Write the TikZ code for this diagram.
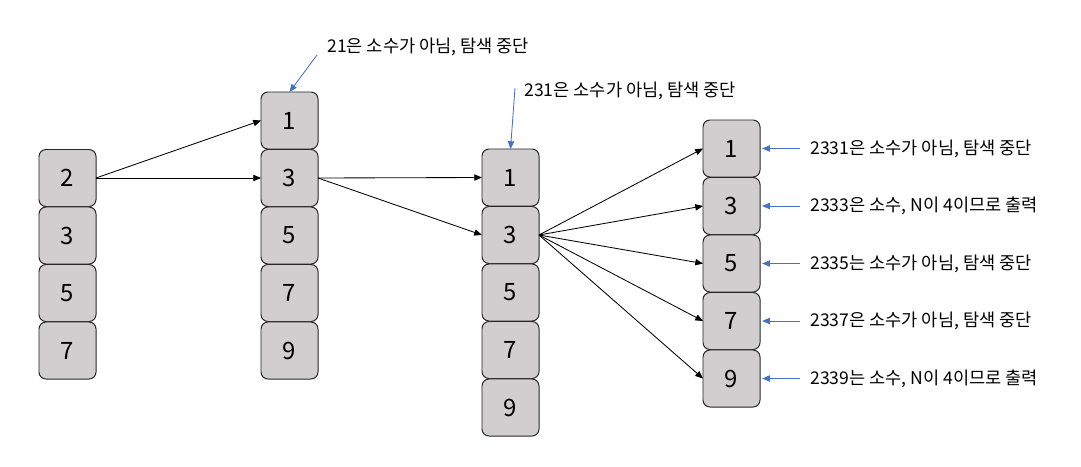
\documentclass[tikz,border=0pt]{standalone}
\usepackage{fontspec}
\setmainfont{Noto Sans CJK KR}
\usetikzlibrary{arrows.meta}
\definecolor{cellgray}{HTML}{D0CECE}
\definecolor{noteblue}{HTML}{4472C4}
\newcommand{\notefont}{\fontsize{12.5}{15}\selectfont}

\begin{document}
\begin{tikzpicture}[x=0.025cm,y=-0.025cm,
    cell/.style={draw=black!85, fill=cellgray, line width=0.7pt, rounded corners=5pt,
      minimum width=1.425cm, minimum height=1.425cm, inner sep=0pt, outer sep=0pt,
      font=\fontsize{17}{19}\selectfont},
    link/.style={-{Triangle[length=5.5pt,width=4.5pt]}, line width=0.6pt},
    hint/.style={-{Triangle[length=5.5pt,width=4.5pt]}, noteblue, line width=0.6pt},
    note/.style={anchor=west, inner sep=0pt, font=\notefont}]
    \useasboundingbox (0,0) rectangle (1081,467);

    \node[cell] (a2) at (67.5,178) {2};
    \node[cell] (a3) at (67.5,235.5) {3};
    \node[cell] (a5) at (67.5,293) {5};
    \node[cell] (a7) at (67.5,350.5) {7};

    \node[cell] (b1) at (289.5,120.5) {1};
    \node[cell] (b3) at (289.5,178) {3};
    \node[cell] (b5) at (289.5,235.5) {5};
    \node[cell] (b7) at (289.5,293) {7};
    \node[cell] (b9) at (289.5,350.5) {9};

    \node[cell] (c1) at (510.5,177.5) {1};
    \node[cell] (c3) at (510.5,235) {3};
    \node[cell] (c5) at (510.5,292.5) {5};
    \node[cell] (c7) at (510.5,350) {7};
    \node[cell] (c9) at (510.5,407.5) {9};

    \node[cell] (d1) at (731.5,148.5) {1};
    \node[cell] (d3) at (731.5,206) {3};
    \node[cell] (d5) at (731.5,263.5) {5};
    \node[cell] (d7) at (731.5,321) {7};
    \node[cell] (d9) at (731.5,378.5) {9};

    \draw[link] (a2.east) -- (b1.west);
    \draw[link] (a2.east) -- (b3.west);
    \draw[link] (b3.east) -- (c1.west);
    \draw[link] (b3.east) -- (c3.west);
    \draw[link] (c3.east) -- (d1.west);
    \draw[link] (c3.east) -- (d3.west);
    \draw[link] (c3.east) -- (d5.west);
    \draw[link] (c3.east) -- (d7.west);
    \draw[link] (c3.east) -- (d9.west);

    \node[note] (n21) at (327,47) {21은 소수가 아님, 탐색 중단};
    \coordinate (h21) at (317,55);
    \draw[hint] (h21) -- (b1.north);

    \node[note] (n231) at (524,91) {231은 소수가 아님, 탐색 중단};
    \coordinate (h231) at (515,88);
    \draw[hint] (h231) -- (c1.north);

    \node[note] (n2331) at (810,148.5) {2331은 소수가 아님, 탐색 중단};
    \node[note] (n2333) at (810,206) {2333은 소수, N이 4이므로 출력};
    \node[note] (n2335) at (810,263.5) {2335는 소수가 아님, 탐색 중단};
    \node[note] (n2337) at (810,321) {2337은 소수가 아님, 탐색 중단};
    \node[note] (n2339) at (810,378.5) {2339는 소수, N이 4이므로 출력};
    \draw[hint] (n2331.west) ++(-10,0) -- ([xshift=1.5pt]d1.east);
    \draw[hint] (n2333.west) ++(-10,0) -- ([xshift=1.5pt]d3.east);
    \draw[hint] (n2335.west) ++(-10,0) -- ([xshift=1.5pt]d5.east);
    \draw[hint] (n2337.west) ++(-10,0) -- ([xshift=1.5pt]d7.east);
    \draw[hint] (n2339.west) ++(-10,0) -- ([xshift=1.5pt]d9.east);
\end{tikzpicture}
\end{document}
